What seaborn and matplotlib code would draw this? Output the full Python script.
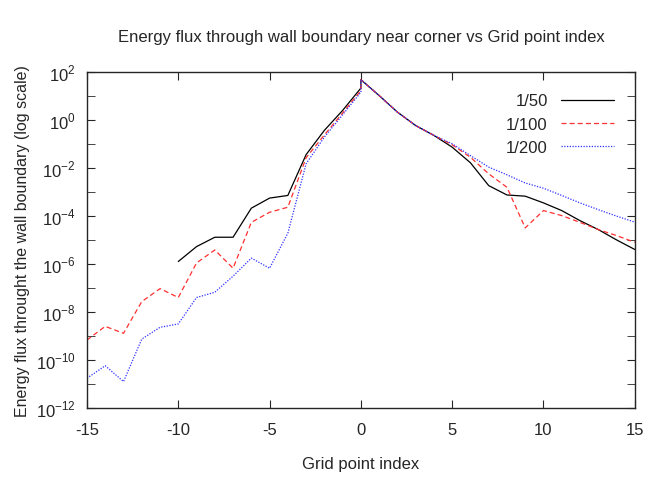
import matplotlib
matplotlib.use("Agg")
import matplotlib.pyplot as plt
import seaborn as sns
import numpy as np
import pandas as pd
from matplotlib.ticker import FixedLocator, FuncFormatter

sns.set_style("ticks")
plt.rcParams['font.family'] = ['Liberation Sans', 'DejaVu Sans']
plt.rcParams['axes.unicode_minus'] = False

x_left = [-15,-14,-13,-12,-11,-10,-9,-8,-7,-6,-5,-4,-3,-2,-1,0]
x_right = [0,1,2,3,4,5,6,7,8,9,10,11,12,13,14,15]
# log10 values
b_left = [None,None,None,None,None,-5.9,-5.28,-4.89,-4.89,-3.68,-3.26,-3.15,-1.45,-0.44,0.39,1.32]
r_left = [-9.17,-8.6,-8.89,-7.57,-7.03,-7.4,-5.96,-5.42,-6.18,-4.27,-3.85,-3.64,-1.58,-0.63,0.28,1.22]
u_left = [-10.76,-10.24,-10.9,-9.13,-8.64,-8.5,-7.4,-7.18,-6.51,-5.76,-6.18,-4.72,-1.83,-0.72,0.21,1.15]
b_right = [1.67,1.01,0.32,-0.24,-0.65,-1.14,-1.79,-2.74,-3.13,-3.18,-3.46,-3.78,-4.2,-4.57,-5.0,-5.4]
r_right = [1.67,1.01,0.32,-0.24,-0.65,-1.04,-1.56,-2.25,-2.81,-4.5,-3.78,-3.99,-4.27,-4.57,-4.82,-5.1]
u_right = [1.67,1.01,0.32,-0.24,-0.65,-1.0,-1.49,-1.97,-2.29,-2.63,-2.85,-3.15,-3.46,-3.74,-4.01,-4.26]

labels = ["1/50", "1/100", "1/200"]
series = {"1/50": (b_left, b_right), "1/100": (r_left, r_right), "1/200": (u_left, u_right)}
xs = x_left + x_right
rows = []
for lab in labels:
    vals = series[lab][0] + series[lab][1]
    for i, (x, v) in enumerate(zip(xs, vals)):
        if v is not None:
            rows.append({"x": x, "y": 10 ** v, "s": lab, "o": i})
df = pd.DataFrame(rows)

fig = plt.figure(figsize=(6.64, 4.89), dpi=100)
ax = fig.add_axes([0.131, 0.1636, 0.825, 0.6876])
styles = {"1/50": dict(color="black", ls="-"),
          "1/100": dict(color="#ff3030", ls=(0, (4, 2.5))),
          "1/200": dict(color="#3030ff", ls=(0, (1, 1.2)))}
for lab in labels:
    d = df[df.s == lab].sort_values("o")
    sns.lineplot(data=d, x="x", y="y", sort=False, estimator=None, ax=ax,
                 label=lab, lw=0.9, **styles[lab])

ax.set_yscale("log")
ax.set_xlim(-15, 15)
ax.set_ylim(1e-12, 1e2)
ax.set_xticks([-15, -10, -5, 0, 5, 10, 15])
ax.yaxis.set_major_locator(FixedLocator([10.0 ** k for k in range(-12, 3, 2)]))
ax.yaxis.set_minor_locator(FixedLocator([10.0 ** k for k in range(-11, 2, 2)]))
ax.yaxis.set_minor_formatter(FuncFormatter(lambda v, p: ""))
ax.yaxis.set_major_formatter(FuncFormatter(lambda v, p: r"10$^{\mathregular{%d}}$" % round(np.log10(v))))
ax.tick_params(which="both", direction="in", top=True, right=True, labelsize=12, length=6)
ax.tick_params(axis="x", pad=10)
ax.tick_params(axis="y", pad=8)
for s in ax.spines.values():
    s.set_linewidth(1.0)
ax.set_xlabel("Grid point index", fontsize=12, labelpad=14)
ax.set_ylabel("Energy flux throught the wall boundary (log scale)", fontsize=11.5, labelpad=4)
ax.set_title("Energy flux through wall boundary near corner vs Grid point index", fontsize=12, pad=22)
leg = ax.legend(frameon=False, fontsize=12, markerfirst=False, loc="upper right",
                handlelength=3.2, bbox_to_anchor=(0.99, 0.98))
fig.savefig("out.png", dpi=100)
